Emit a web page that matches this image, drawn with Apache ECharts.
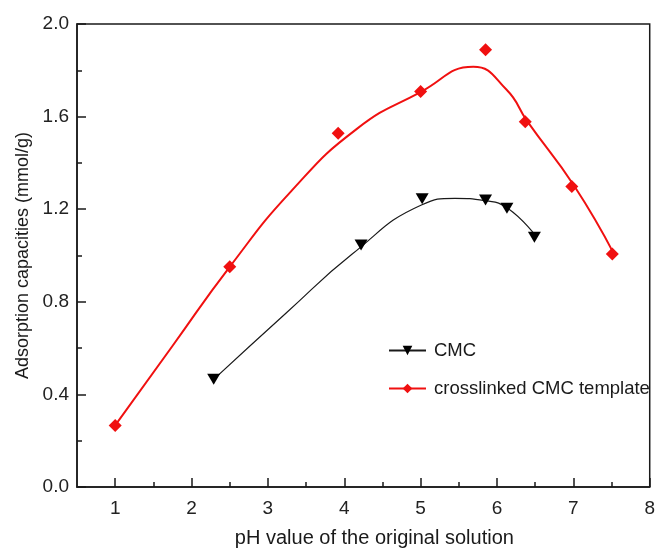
<!DOCTYPE html>
<html>
<head>
<meta charset="utf-8">
<script src="https://cdn.jsdelivr.net/npm/echarts@6/dist/echarts.min.js"></script>
<style>
    html, body { margin: 0; padding: 0; background: #fff; }
    #chart { width: 658px; height: 553px; }
</style>
</head>
<body>
<div id="chart"></div>
<script>
    // measured points
    const cmcPH = [2.29, 4.22, 5.02, 5.85, 6.13, 6.49];
    const cmcCap = [0.465, 1.045, 1.245, 1.24, 1.204, 1.079];
    const tplPH = [1, 2.5, 3.92, 5.0, 5.85, 6.37, 6.98, 7.51];
    const tplCap = [0.266, 0.951, 1.528, 1.708, 1.889, 1.578, 1.298, 1.007];

    // fitted curves
    const cmcFitPH = [2.29, 3.25, 4.10, 5.01, 5.45, 5.84, 6.14, 6.51];
    const cmcFitCap = [0.465, 0.755, 1.005, 1.218, 1.247, 1.237, 1.204, 1.083];
    const tplFitPH = [1, 1.75, 2.5, 3.30, 4.165, 5.0, 5.69, 6.12, 6.40, 7.01, 7.535];
    const tplFitCap = [0.266, 0.609, 0.951, 1.276, 1.547, 1.706, 1.815, 1.718, 1.578, 1.301, 1.005];

    const xMajorTicks = [1, 2, 3, 4, 5, 6, 7, 8];
    const xMinorTicks = [1.5, 2.5, 3.5, 4.5, 5.5, 6.5, 7.5];

    const legendNames = ['CMC', 'crosslinked CMC template'];

    function pairs(xs, ys) {
        return xs.map((x, i) => [x, ys[i]]);
    }

    const font = 'Liberation Sans, Arial, Helvetica, sans-serif';
    const axisColor = '#1a1a1a';
    const red = '#f01010';

    const chart = echarts.init(document.getElementById('chart'));
    chart.setOption({
        animation: false,
        grid: {
            left: 77, right: 5, top: 24, bottom: 61.5,
            show: true,
            borderColor: axisColor,
            borderWidth: 1.5
        },
        legend: {
            orient: 'vertical',
            left: 383,
            top: 336,
            itemWidth: 37,
            itemHeight: 12,
            itemGap: 19,
            data: legendNames,
            textStyle: { fontFamily: font, fontSize: 18.5, color: '#1a1a1a', padding: [0, 0, 0, 3] }
        },
        xAxis: [
            {
                type: 'value',
                min: 0.5, max: 8,
                axisLine: { lineStyle: { color: axisColor, width: 1.5 } },
                axisTick: { inside: true, length: 9, customValues: xMajorTicks, lineStyle: { color: axisColor, width: 1.5 } },
                axisLabel: { customValues: xMajorTicks, fontFamily: font, fontSize: 19, color: '#222', margin: 12 },
                splitLine: { show: false },
                name: 'pH value of the original solution',
                nameLocation: 'middle',
                nameGap: 41,
                nameTextStyle: { fontFamily: font, fontSize: 20, color: '#1a1a1a', padding: [0, 0, 0, 22] }
            },
            {
                type: 'value',
                min: 0.5, max: 8,
                position: 'bottom',
                axisLine: { show: false },
                axisTick: { inside: true, length: 5, customValues: xMinorTicks, lineStyle: { color: axisColor, width: 1.5 } },
                axisLabel: { show: false },
                splitLine: { show: false }
            }
        ],
        yAxis: {
            type: 'value',
            min: 0, max: 2, interval: 0.4,
            axisLine: { show: true, lineStyle: { color: axisColor, width: 1.5 } },
            axisTick: { show: true, inside: true, length: 9, lineStyle: { color: axisColor, width: 1.5 } },
            minorTick: { show: true, splitNumber: 2, length: 5, lineStyle: { color: axisColor, width: 1.5 } },
            axisLabel: { fontFamily: font, fontSize: 19, color: '#222', margin: 8, formatter: v => v.toFixed(1) },
            splitLine: { show: false },
            name: 'Adsorption capacities (mmol/g)',
            nameLocation: 'middle',
            nameGap: 45,
            nameTextStyle: { fontFamily: font, fontSize: 18, color: '#1a1a1a' }
        },
        series: [
            {
                name: 'CMC',
                type: 'line',
                data: pairs(cmcFitPH, cmcFitCap),
                smooth: 0.5,
                showSymbol: false,
                symbol: 'triangle',
                symbolRotate: 180,
                symbolSize: 8,
                lineStyle: { color: '#1a1a1a', width: 1.2 },
                itemStyle: { color: '#000' },
                z: 2
            },
            {
                name: 'crosslinked CMC template',
                type: 'line',
                data: pairs(tplFitPH, tplFitCap),
                smooth: 0.5,
                showSymbol: false,
                symbol: 'diamond',
                symbolSize: 8,
                lineStyle: { color: red, width: 2 },
                itemStyle: { color: red },
                z: 2
            },
            {
                name: 'CMC points',
                type: 'scatter',
                data: pairs(cmcPH, cmcCap),
                symbol: 'triangle',
                symbolRotate: 180,
                symbolSize: [13, 11],
                itemStyle: { color: '#000', opacity: 1 },
                z: 3
            },
            {
                name: 'template points',
                type: 'scatter',
                data: pairs(tplPH, tplCap),
                symbol: 'diamond',
                symbolSize: 13,
                itemStyle: { color: red, opacity: 1 },
                z: 3
            }
        ]
    });
</script>
</body>
</html>
